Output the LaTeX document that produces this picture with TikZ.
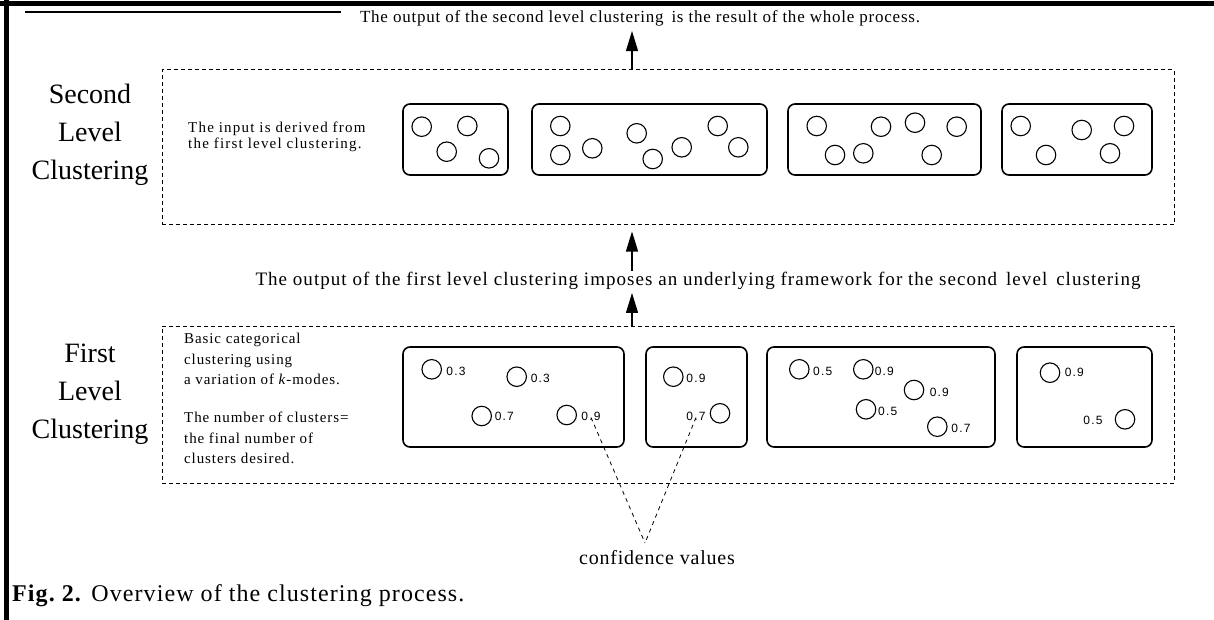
\documentclass[tikz,border=0pt]{standalone}
\usepackage{fontspec}
\setmainfont{Liberation Serif}
\newfontfamily\labfont[LetterSpace=10]{Liberation Sans}
\usetikzlibrary{arrows.meta}
\begin{document}
\begin{tikzpicture}[x=1pt,y=-1pt,
  frameline/.style={line width=5pt},
  levelbox/.style={draw, dash pattern=on 4pt off 3pt, line width=1pt, inner sep=0pt, minimum width=1012pt},
  clbox/.style={draw, line width=1.6pt, rounded corners=7pt, inner sep=0pt},
  pnt/.style={draw, circle, line width=1.1pt, minimum size=19.5pt, inner sep=0pt},
  conf/.style={font=\labfont\fontsize{12}{12}\selectfont, inner sep=1pt},
  arr/.style={line width=1.3pt, -{Triangle[length=20pt,width=12pt]}},
  cvline/.style={dash pattern=on 4pt off 4pt, line width=0.8pt},
  small/.style={font=\fontsize{15}{20.5}\selectfont\addfontfeature{LetterSpace=6}, align=left, inner sep=0pt},
  big/.style={font=\fontsize{28}{38}\selectfont, align=center, inner sep=0pt},
]
\useasboundingbox (0,0) rectangle (1214,620);
% frame
\draw[frameline] (0,4) -- (1214,4);
\draw[frameline] (6,0) -- (6,620);
\draw[line width=2pt] (25,12) -- (341,12);

% level boxes
\node[levelbox, minimum height=155pt] (L2) at (668,147.5) {};
\node[levelbox, minimum height=157pt] (L1) at (668,404.5) {};

% texts
\node[font=\fontsize{17}{20}\selectfont\addfontfeature{LetterSpace=4.5}, inner sep=1pt] (top) at (640,18) {The output of the second level clustering\, is the result of the whole process.};
\node[font=\fontsize{19}{22}\selectfont\addfontfeature{LetterSpace=5.5}, inner sep=1pt] (mid) at (698,281) {The output of the first level clustering imposes an underlying framework for the second\, level\, clustering};
\node[big] (lab2) at (90,135) {Second\\Level\\Clustering};
\node[big] (lab1) at (90,394) {First\\Level\\Clustering};
\node[small, anchor=west, font=\fontsize{15}{16}\selectfont\addfontfeature{LetterSpace=8}] (in2) at (188,137) {The input is derived from\\the first level clustering.};
\node[small, anchor=west] (in1a) at (184,359) {Basic categorical\\clustering using\\a variation of \textit{k}-modes.};
\node[small, anchor=west] (in1b) at (184,438) {The number of clusters=\\the final number of\\clusters desired.};
\node[font=\fontsize{24}{28}\selectfont\addfontfeature{LetterSpace=4.5}, anchor=west, inner sep=0pt] (cap) at (12,596) {\textbf{Fig.\ 2.} Overview of the clustering process.};
\node[font=\fontsize{20}{22}\selectfont\addfontfeature{LetterSpace=4}, inner sep=1pt] (cv) at (657,558) {confidence values};

% arrows
\coordinate (ax) at (632,0);
\draw[arr, shorten >=4pt] (L2.north -| ax) -- (top.south -| ax);
\draw[arr, shorten >=2pt] (L1.north -| ax) -- (mid.south -| ax);
\draw[arr, shorten >=6pt] (mid.north -| ax) -- (L2.south -| ax);

% second level clusters
\node[clbox, minimum width=105pt, minimum height=71pt] (s1) at (455.5,139.5) {};
\node[clbox, minimum width=235pt, minimum height=71pt] (s2) at (649.5,139.5) {};
\node[clbox, minimum width=193pt, minimum height=71pt] (s3) at (884.5,139.5) {};
\node[clbox, minimum width=150pt, minimum height=71pt] (s4) at (1077,139.5) {};
\foreach \n/\x/\y in {a/421.7/126.7, b/467.3/126, c/446.7/151.7, d/489/158.3,
  e/560.3/126, f/560.3/155, g/592.3/148.3, h/636.7/133.3, i/652.7/159, j/681.7/147.3, k/717.7/126, l/738.3/147.3,
  m/816.7/126, n/881/126.7, o/915/122.7, p/956.7/126.7, q/835/155, r/863.3/153.3, s/931.7/155,
  t/1020.7/126, u/1081.7/130, v/1124/126, w/1046/155, x/1110/153.3}
  \node[pnt] (sp\n) at (\x,\y) {};

% first level clusters
\node[clbox, minimum width=221pt, minimum height=100pt] (f1) at (513.5,397) {};
\node[clbox, minimum width=101pt, minimum height=100pt] (f2) at (696.5,397) {};
\node[clbox, minimum width=228pt, minimum height=100pt] (f3) at (881,397) {};
\node[clbox, minimum width=135pt, minimum height=100pt] (f4) at (1084.5,397) {};
\foreach \n/\x/\y/\lx/\ly/\v in {a/431.7/369.3/456/371.7/0.3, b/516.7/376.7/540.3/378.3/0.3,
  c/481.7/416/504.3/416/0.7, d/566.7/415/591/416/0.9,
  e/673.3/376.7/696/378.3/0.9, f/720/413.3/696/416/0.7,
  g/799.3/369.3/822.7/371.7/0.5, h/863.3/369.3/884.3/371.7/0.9, i/914/390/939.3/392.7/0.9,
  j/866/409.3/887.7/411.7/0.5, k/937.3/426.7/961/428.3/0.7,
  l/1050/372.7/1074.3/372.7/0.9, m/1125/419.3/1093/420/0.5}
  {\node[pnt] (fp\n) at (\x,\y) {};
   \node[conf] (fl\n) at (\lx,\ly) {\v};}

% confidence connectors
\coordinate (cvtip) at (645,543);
\draw[cvline] ([yshift=4pt]fld.south) -- (cvtip);
\draw[cvline] ([yshift=4pt]flf.south) -- (cvtip);
\end{tikzpicture}
\end{document}
